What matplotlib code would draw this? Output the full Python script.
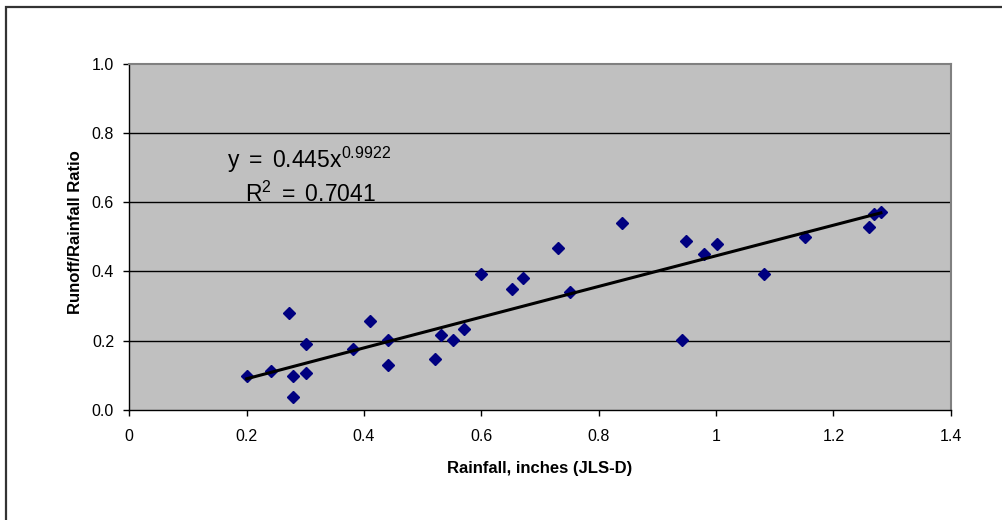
import numpy as np
import matplotlib
matplotlib.use("Agg")
import matplotlib.pyplot as plt
from matplotlib.patches import Rectangle

# Data
rainfall = [0.200, 0.241, 0.272, 0.279, 0.279, 0.302, 0.302, 0.382, 0.411, 0.441,
            0.441, 0.521, 0.531, 0.551, 0.570, 0.600, 0.652, 0.671, 0.731, 0.751,
            0.840, 0.942, 0.949, 0.979, 1.001, 1.081, 1.152, 1.261, 1.270, 1.281]
ratio = [0.098, 0.113, 0.281, 0.098, 0.038, 0.190, 0.108, 0.175, 0.258, 0.202,
         0.130, 0.147, 0.216, 0.202, 0.235, 0.392, 0.350, 0.382, 0.468, 0.341,
         0.539, 0.202, 0.488, 0.451, 0.478, 0.392, 0.500, 0.529, 0.567, 0.571]
coef_a = 0.445
coef_b = 0.9922
r_squared = 0.7041
x_ticks = [0, 0.2, 0.4, 0.6, 0.8, 1.0, 1.2, 1.4]
x_tick_labels = ["0", "0.2", "0.4", "0.6", "0.8", "1", "1.2", "1.4"]
y_ticks = [0.0, 0.2, 0.4, 0.6, 0.8, 1.0]
y_tick_labels = ["0.0", "0.2", "0.4", "0.6", "0.8", "1.0"]

plt.rcParams['font.family'] = ['Liberation Sans', 'DejaVu Sans']
plt.rcParams['mathtext.fontset'] = 'custom'
plt.rcParams['mathtext.rm'] = 'Liberation Sans'
plt.rcParams['mathtext.it'] = 'Liberation Sans'
plt.rcParams['mathtext.bf'] = 'Liberation Sans:bold'

W, H = 1003, 520
fig = plt.figure(figsize=(W / 100, H / 100), dpi=100)
fig.patch.set_facecolor('white')

# outer chart border (clipped at right and bottom)
fig.patches.append(Rectangle((6 / W, -0.1), 1.2, (H - 7) / H + 0.1,
                             transform=fig.transFigure, fill=False,
                             edgecolor='#333333', linewidth=1.6))

x0, x1 = 129.3, 950.7
y0, y1 = 410.0, 63.5
ax = fig.add_axes([x0 / W, (H - y0) / H, (x1 - x0) / W, (y0 - y1) / H])
ax.set_facecolor('#C0C0C0')
ax.set_xlim(0, 1.4)
ax.set_ylim(0, 1.0)

for y in y_ticks[1:-1]:
    ax.axhline(y, color='black', linewidth=1.0, zorder=1)

ax.plot(rainfall, ratio, linestyle='none', marker='D', markersize=6.5,
        color='#000080', markeredgecolor='#000080', zorder=3)

xt = np.linspace(min(rainfall), max(rainfall), 100)
ax.plot(xt, coef_a * xt ** coef_b, color='black', linewidth=2.2, zorder=4)

ax.set_xticks(x_ticks)
ax.set_xticklabels(x_tick_labels)
ax.set_yticks(y_ticks)
ax.set_yticklabels(y_tick_labels)
ax.tick_params(axis='both', direction='out', length=4, width=1, color='black',
               labelsize=11.5, labelcolor='black')
ax.tick_params(axis='x', pad=10)
ax.tick_params(axis='y', pad=7)

for s in ['left', 'bottom']:
    ax.spines[s].set_color('black')
    ax.spines[s].set_linewidth(1.0)
for s in ['top', 'right']:
    ax.spines[s].set_color('#808080')
    ax.spines[s].set_linewidth(1.5)

ax.text(0.1665, 0.698, r"$\mathregular{y\ =\ 0.445x^{0.9922}}$", fontsize=16.5,
        va='baseline', ha='left', zorder=5)
ax.text(0.197, 0.602, r"$\mathregular{R^{2}\ =\ 0.7041}$", fontsize=16.5,
        va='baseline', ha='left', zorder=5)

fig.text(540 / W, 1 - 469 / H, "Rainfall, inches (JLS-D)", fontsize=12,
         fontweight='bold', ha='center', va='center')
fig.text(75 / W, 1 - 232 / H, "Runoff/Rainfall Ratio", fontsize=12,
         fontweight='bold', ha='center', va='center', rotation=90)

fig.savefig('out.png', dpi=100)
